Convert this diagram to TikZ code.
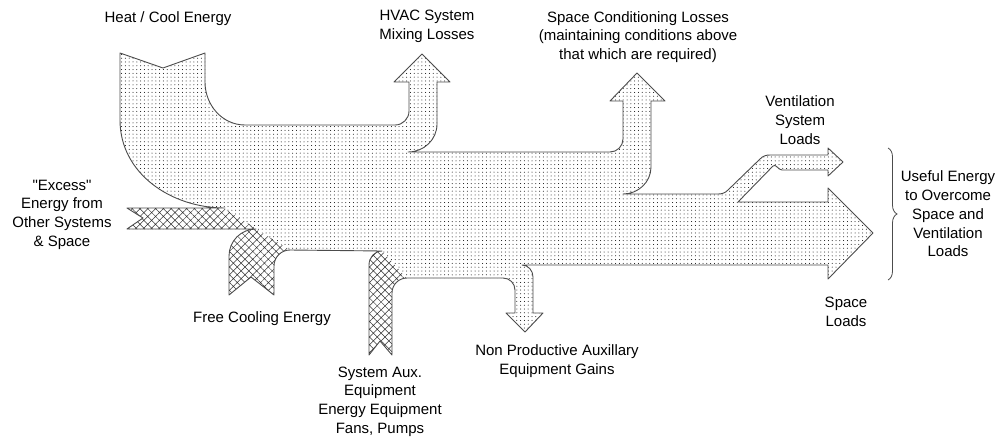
\documentclass[tikz,border=0pt]{standalone}
\usepackage{fontspec}
\setmainfont{Liberation Sans}
\usepackage{tikz}
\usetikzlibrary{patterns.meta, decorations.pathreplacing}

\begin{document}
\begin{tikzpicture}[
			x=1pt, y=1pt,
			txt/.style={align=center, inner sep=0pt, font=\fontsize{15}{18.7}\selectfont},
			edge/.style={draw=black!70, line width=0.9pt, line join=round},
			dotfill/.style={preaction={fill=white}, pattern={Dots[distance=3.8pt, radius=0.5pt]}},
			hatchfill/.style={preaction={fill=white}, pattern={Hatch[distance=5.5pt, angle=45, line width=0.5pt]}, pattern color=black!80}
			]
			\useasboundingbox (0,0) rectangle (1003,-442);
			
			% --- Glowny strumien energii (kropki) ---
			\path[dotfill, save path=\flowpath]
				(120,-53) -- (163,-68) -- (205,-53) -- (205,-82) to[out=-90,in=180] (245,-125)
				-- (395,-125) to[out=0,in=-90] (409,-111) -- (409,-82) -- (394,-82) -- (422,-54) -- (450,-82) -- (437,-82)
				-- (437,-124) to[out=-90,in=0] (408,-152)
				-- (610,-152) to[out=0,in=-90] (623,-139) -- (623,-101) -- (610,-101) -- (637,-73) -- (665,-101) -- (651,-101)
				-- (651,-167) to[out=-90,in=0] (623,-194)
				-- (718,-194) to[out=0,in=-135] (728,-190) -- (760,-159) to[out=45,in=180] (770,-155)
				-- (828,-155) -- (828,-148) -- (843,-162) -- (828,-176) -- (828,-170)
				-- (782,-170) to[out=180,in=45] (773,-166) -- (738,-202)
				-- (828,-202) -- (828,-188) -- (873,-233) -- (828,-279) -- (828,-265)
				-- (522,-265) to[out=0,in=90] (533,-277) -- (533,-313) -- (543,-313) -- (525,-332) -- (506,-313) -- (515,-313)
				-- (515,-290) to[out=90,in=0] (503,-278)
				-- (407,-278) to[out=180,in=90] (392,-293) -- (392,-355) -- (380,-341) -- (369,-355)
				-- (369,-265) to[out=90,in=180] (382,-251)
				-- (290,-250) to[out=180,in=90] (274,-266) -- (274,-295) -- (251,-277) -- (229,-295)
				-- (229,-256) to[out=90,in=180] (256,-229)
				-- (127,-229) -- (143,-218) -- (127,-208)
				-- (225,-208) to[out=180,in=-90] (120,-120) -- cycle;
			
			% --- Doplywy energii (kratka) ---
			\path[hatchfill] (127,-208) -- (223,-208) -- (257,-229) -- (127,-229) -- (143,-218) -- cycle; % nadmiar
			\path[hatchfill] (229,-295) -- (229,-256) to[out=90,in=180] (256,-229) -- (290,-250)
				to[out=180,in=90] (274,-266) -- (274,-295) -- (251,-277) -- cycle; % free cooling
			\path[hatchfill] (369,-355) -- (369,-265) to[out=90,in=180] (382,-251) -- (407,-278)
				to[out=180,in=90] (392,-293) -- (392,-355) -- (380,-341) -- cycle; % urzadzenia pomocnicze
			
			% Obrys calego strumienia
			\draw[edge, use path=\flowpath];
			
			% Klamra
			\draw[decorate, decoration={brace, amplitude=9pt}, draw=black!70, line width=0.8pt] (888,-148) -- (888,-280);
			
			% --- Opisy ---
			\node[txt] (heat) at (168,-19) {Heat / Cool Energy};
			\node[txt] (hvac) at (427,-26.5) {HVAC System\\Mixing Losses};
			\node[txt] (scloss) at (638,-37) {Space Conditioning Losses\\(maintaining conditions above\\that which are required)};
			\node[txt] (vent) at (800,-120) {Ventilation\\System\\Loads};
			\node[txt] (useful) at (948,-214) {Useful Energy\\to Overcome\\Space and\\Ventilation\\Loads};
			\node[txt] (spaceloads) at (846,-311.5) {Space\\Loads};
			\node[txt] (excess) at (62,-214.5) {\textquotedbl Excess\textquotedbl\\Energy from\\Other Systems\\\& Space};
			\node[txt] (freecool) at (262,-319) {Free Cooling Energy};
			\node[txt] (sysaux) at (380,-401.5) {System Aux.\\Equipment\\Energy Equipment\\Fans, Pumps};
			\node[txt] (nonprod) at (557,-361) {Non Productive Auxillary\\Equipment Gains};
			
		\end{tikzpicture}
\end{document}
